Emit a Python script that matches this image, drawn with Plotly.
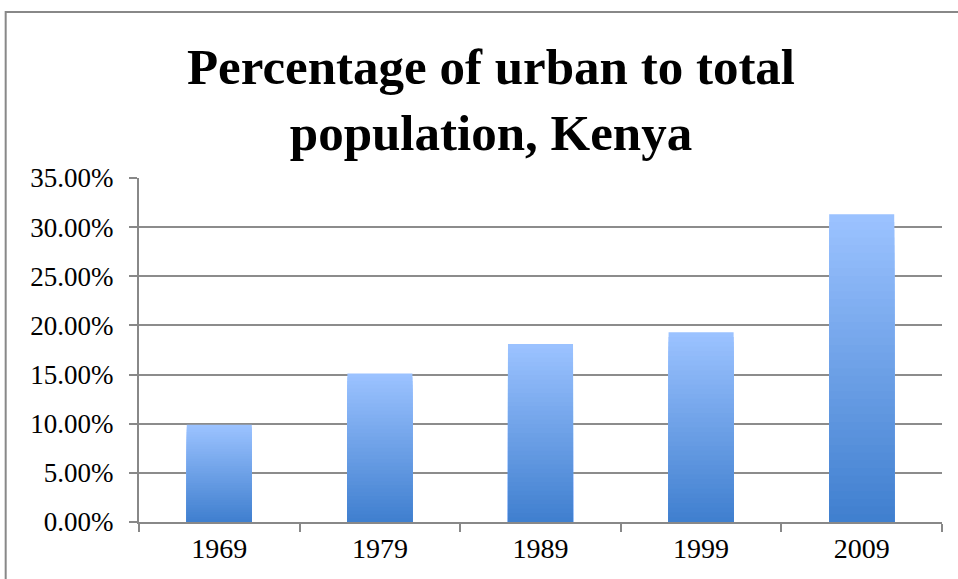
import plotly.graph_objects as go

years = ["1969", "1979", "1989", "1999", "2009"]
urban_share = [0.099, 0.151, 0.181, 0.193, 0.313]
y_ticks = [0, 0.05, 0.10, 0.15, 0.20, 0.25, 0.30, 0.35]
title_text = "Percentage of urban to total<br>population, Kenya"

top_rgb = (155, 194, 255)
bot_rgb = (62, 126, 206)
N = 40

fig = go.Figure()
for k in range(N):
    frac = (N - k) / N
    c = tuple(int(round(b + (t - b) * frac)) for t, b in zip(top_rgb, bot_rgb))
    fig.add_trace(go.Bar(
        x=years,
        y=[v * frac for v in urban_share],
        marker=dict(color="rgb(%d,%d,%d)" % c, line=dict(width=0)),
        hoverinfo="skip",
        showlegend=False,
    ))

fig.update_layout(
    width=958, height=579,
    barmode="overlay",
    bargap=0.595,
    paper_bgcolor="white",
    plot_bgcolor="white",
    margin=dict(l=139, r=16, t=178, b=57),
    font=dict(family="Liberation Serif", size=28, color="black"),
    title=dict(
        text=title_text,
        x=491 / 958, xanchor="center",
        y=1 - 84 / 579, yanchor="middle",
        font=dict(family="Liberation Serif", size=51, color="black", weight="bold"),
    ),
    xaxis=dict(
        showline=True, linecolor="#888888", linewidth=2,
        ticks="outside", tickson="boundaries", ticklen=8, tickwidth=2, tickcolor="#888888",
        showgrid=False,
        tickfont=dict(size=28),
    ),
    yaxis=dict(
        range=[0, 0.35],
        tickvals=y_ticks,
        tickformat=".2%",
        showline=True, linecolor="#888888", linewidth=2,
        ticks="outside", ticklen=8, tickwidth=2, tickcolor="#888888",
        ticklabelstandoff=10,
        showgrid=True, gridcolor="#8c8c8c", gridwidth=2,
        zeroline=False,
        tickfont=dict(size=27),
    ),
    shapes=[dict(
        type="rect", xref="paper", yref="paper",
        x0=-130 / 783, x1=1.2, y0=-0.5, y1=1 + 166 / 344,
        line=dict(color="#888888", width=2), fillcolor="rgba(0,0,0,0)",
        layer="below",
    )],
)

fig.write_html("out.html")
